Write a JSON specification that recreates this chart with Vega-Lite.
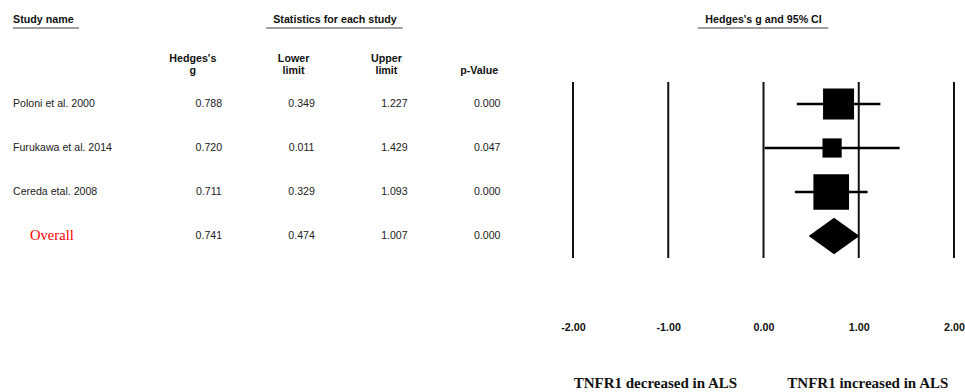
{
  "$schema": "https://vega.github.io/schema/vega-lite/v6.json",
  "background": "white",
  "padding": {"left": 12, "top": 0, "right": 0, "bottom": 0},
  "config": {
    "view": {"stroke": null},
    "font": "Liberation Sans",
    "text": {"font": "Liberation Sans"}
  },
  "datasets": {
    "studies": [
      {"study": "Poloni et al. 2000", "g": 0.788, "lower": 0.349, "upper": 1.227, "p": 0.000, "weight": 37.0},
      {"study": "Furukawa et al. 2014", "g": 0.720, "lower": 0.011, "upper": 1.429, "p": 0.047, "weight": 14.2},
      {"study": "Cereda etal. 2008", "g": 0.711, "lower": 0.329, "upper": 1.093, "p": 0.000, "weight": 48.9},
      {"study": "Overall", "g": 0.741, "lower": 0.474, "upper": 1.007, "p": 0.000}
    ],
    "subheads": [
      {"col": "g", "label": "Hedges's\ng", "lines": 2},
      {"col": "lower", "label": "Lower\nlimit", "lines": 2},
      {"col": "upper", "label": "Upper\nlimit", "lines": 2},
      {"col": "p", "label": "p-Value", "lines": 1}
    ],
    "ticks": [{"v": -2}, {"v": -1}, {"v": 0}, {"v": 1}, {"v": 2}]
  },
  "spacing": 40,
  "bounds": "flush",
  "hconcat": [
    {
      "width": 66,
      "height": 252,
      "layer": [
        {
          "data": {"name": "studies"},
          "transform": [{"filter": "datum.study != 'Overall'"}],
          "mark": {"type": "text", "align": "left", "baseline": "middle", "fontSize": 10.6, "color": "#222"},
          "encoding": {
            "x": {"datum": "Study name", "type": "nominal", "scale": {"type": "point", "domain": ["Study name"], "align": 0}, "axis": null},
            "y": {"field": "study", "type": "nominal", "scale": {"type": "point", "domain": ["Study name", "hdr", "Poloni et al. 2000", "Furukawa et al. 2014", "Cereda etal. 2008", "Overall"], "padding": 0.364}, "axis": null},
            "text": {"field": "study"}
          }
        },
        {
          "data": {"name": "studies"},
          "transform": [{"filter": "datum.study == 'Overall'"}],
          "mark": {"type": "text", "align": "left", "baseline": "middle", "font": "Liberation Serif", "fontSize": 14.6, "color": "#ff0000", "dx": 17},
          "encoding": {
            "x": {"datum": "Study name", "type": "nominal", "scale": {"type": "point", "domain": ["Study name"], "align": 0}, "axis": null},
            "y": {"field": "study", "type": "nominal", "scale": {"type": "point", "domain": ["Study name", "hdr", "Poloni et al. 2000", "Furukawa et al. 2014", "Cereda etal. 2008", "Overall"], "padding": 0.364}, "axis": null},
            "text": {"field": "study"}
          }
        },
        {
          "data": {"values": [{"label": "Study name"}]},
          "mark": {"type": "text", "align": "left", "baseline": "middle", "fontSize": 10.7, "fontWeight": "bold", "color": "#111", "dy": 4},
          "encoding": {
            "x": {"datum": "Study name", "type": "nominal", "scale": {"type": "point", "domain": ["Study name"], "align": 0}, "axis": null},
            "y": {"field": "label", "type": "nominal", "scale": {"type": "point", "domain": ["Study name", "hdr", "Poloni et al. 2000", "Furukawa et al. 2014", "Cereda etal. 2008", "Overall"], "padding": 0.364}, "axis": null},
            "text": {"field": "label"}
          }
        },
        {
          "data": {"values": [{}]},
          "mark": {"type": "rule", "color": "#a0a0a0", "strokeWidth": 2, "yOffset": 12},
          "encoding": {
            "y": {"datum": "Study name", "type": "nominal", "scale": {"type": "point", "domain": ["Study name", "hdr", "Poloni et al. 2000", "Furukawa et al. 2014", "Cereda etal. 2008", "Overall"], "padding": 0.364}, "axis": null}
          }
        }
      ]
    },
    {
      "width": 414,
      "height": 252,
      "layer": [
        {
          "data": {"name": "studies"},
          "transform": [{"fold": ["g", "lower", "upper", "p"], "as": ["col", "val"]}],
          "mark": {"type": "text", "align": "center", "baseline": "middle", "fontSize": 10.6, "color": "#222"},
          "encoding": {
            "x": {"field": "col", "type": "nominal", "scale": {"type": "point", "domain": ["g", "lower", "upper", "p"], "padding": 0.7306, "align": 0.6622}, "axis": null},
            "y": {"field": "study", "type": "nominal", "scale": {"type": "point", "domain": ["Study name", "hdr", "Poloni et al. 2000", "Furukawa et al. 2014", "Cereda etal. 2008", "Overall"], "padding": 0.364}, "axis": null},
            "text": {"field": "val", "type": "quantitative", "format": ".3f"}
          }
        },
        {
          "data": {"name": "subheads"},
          "transform": [{"filter": "datum.col == 'g'"}],
          "mark": {"type": "text", "align": "center", "baseline": "bottom", "lineBreak": "\n", "lineHeight": 12, "fontSize": 10.7, "fontWeight": "bold", "color": "#111", "dx": -16, "dy": 4},
          "encoding": {
            "x": {"field": "col", "type": "nominal", "scale": {"type": "point", "domain": ["g", "lower", "upper", "p"], "padding": 0.7306, "align": 0.6622}, "axis": null},
            "y": {"datum": "hdr", "type": "nominal", "scale": {"type": "point", "domain": ["Study name", "hdr", "Poloni et al. 2000", "Furukawa et al. 2014", "Cereda etal. 2008", "Overall"], "padding": 0.364}, "axis": null},
            "text": {"field": "label"}
          }
        },
        {
          "data": {"name": "subheads"},
          "transform": [{"filter": "datum.lines == 2 && datum.col != 'g'"}],
          "mark": {"type": "text", "align": "center", "baseline": "bottom", "lineBreak": "\n", "lineHeight": 12, "fontSize": 10.7, "fontWeight": "bold", "color": "#111", "dx": -8, "dy": 4},
          "encoding": {
            "x": {"field": "col", "type": "nominal", "scale": {"type": "point", "domain": ["g", "lower", "upper", "p"], "padding": 0.7306, "align": 0.6622}, "axis": null},
            "y": {"datum": "hdr", "type": "nominal", "scale": {"type": "point", "domain": ["Study name", "hdr", "Poloni et al. 2000", "Furukawa et al. 2014", "Cereda etal. 2008", "Overall"], "padding": 0.364}, "axis": null},
            "text": {"field": "label"}
          }
        },
        {
          "data": {"name": "subheads"},
          "transform": [{"filter": "datum.lines == 1"}],
          "mark": {"type": "text", "align": "center", "baseline": "bottom", "fontSize": 10.7, "fontWeight": "bold", "color": "#111", "dx": -8, "dy": 16},
          "encoding": {
            "x": {"field": "col", "type": "nominal", "scale": {"type": "point", "domain": ["g", "lower", "upper", "p"], "padding": 0.7306, "align": 0.6622}, "axis": null},
            "y": {"datum": "hdr", "type": "nominal", "scale": {"type": "point", "domain": ["Study name", "hdr", "Poloni et al. 2000", "Furukawa et al. 2014", "Cereda etal. 2008", "Overall"], "padding": 0.364}, "axis": null},
            "text": {"field": "label"}
          }
        },
        {
          "data": {"values": [{"label": "Statistics for each study"}]},
          "mark": {"type": "text", "align": "center", "baseline": "middle", "fontSize": 10.7, "fontWeight": "bold", "color": "#111", "dx": 9, "dy": 4},
          "encoding": {
            "y": {"datum": "Study name", "type": "nominal", "scale": {"type": "point", "domain": ["Study name", "hdr", "Poloni et al. 2000", "Furukawa et al. 2014", "Cereda etal. 2008", "Overall"], "padding": 0.364}, "axis": null},
            "text": {"field": "label"}
          }
        },
        {
          "data": {"values": [{}]},
          "mark": {"type": "rule", "color": "#a0a0a0", "strokeWidth": 2, "yOffset": 12, "xOffset": -35.6, "x2Offset": 8.3},
          "encoding": {
            "x": {"datum": "lower", "type": "nominal", "scale": {"type": "point", "domain": ["g", "lower", "upper", "p"], "padding": 0.7306, "align": 0.6622}, "axis": null},
            "x2": {"datum": "upper"},
            "y": {"datum": "Study name", "type": "nominal", "scale": {"type": "point", "domain": ["Study name", "hdr", "Poloni et al. 2000", "Furukawa et al. 2014", "Cereda etal. 2008", "Overall"], "padding": 0.364}, "axis": null}
          }
        }
      ]
    },
    {
      "width": 381,
      "height": 252,
      "resolve": {"axis": {"x": "independent"}},
      "layer": [
        {
          "data": {"name": "ticks"},
          "mark": {"type": "rule", "color": "#111", "strokeWidth": 2, "yOffset": -22, "y2Offset": 22},
          "encoding": {
            "x": {
              "field": "v", "type": "quantitative",
              "scale": {"domain": [-2, 2], "nice": false, "zero": false},
              "axis": {
                "orient": "bottom", "values": [-2, -1, 0, 1, 2],
                "labelExpr": "(datum.value < 0 ? '-' : '') + format(abs(datum.value), '.2f')",
                "labelFont": "Liberation Sans", "labelFontSize": 10.7, "labelFontWeight": "bold", "labelColor": "#111",
                "labelPadding": 70, "labelFlush": false, "labelOverlap": false,
                "domain": false, "ticks": false, "grid": false, "title": null
              }
            },
            "y": {"datum": "Poloni et al. 2000", "type": "nominal", "scale": {"type": "point", "domain": ["Study name", "hdr", "Poloni et al. 2000", "Furukawa et al. 2014", "Cereda etal. 2008", "Overall"], "padding": 0.364}, "axis": null},
            "y2": {"datum": "Overall"}
          }
        },
        {
          "data": {"name": "studies"},
          "transform": [{"filter": "datum.study != 'Overall'"}],
          "mark": {"type": "rule", "color": "#000", "strokeWidth": 2.7},
          "encoding": {
            "x": {
              "field": "lower", "type": "quantitative",
              "scale": {"domain": [-2, 2], "nice": false, "zero": false},
              "axis": {
                "orient": "bottom", "values": [-1.14, 1.09],
                "labelExpr": "datum.value < 0 ? 'TNFR1 decreased in ALS' : 'TNFR1 increased in ALS'",
                "labelFont": "Liberation Serif", "labelFontSize": 15, "labelFontWeight": "bold", "labelColor": "#111",
                "labelPadding": 123, "labelFlush": false, "labelOverlap": false, "labelBound": false,
                "domain": false, "ticks": false, "grid": false, "title": null
              }
            },
            "x2": {"field": "upper"},
            "y": {"field": "study", "type": "nominal", "scale": {"type": "point", "domain": ["Study name", "hdr", "Poloni et al. 2000", "Furukawa et al. 2014", "Cereda etal. 2008", "Overall"], "padding": 0.364}, "axis": null}
          }
        },
        {
          "data": {"name": "studies"},
          "transform": [{"filter": "datum.study != 'Overall'"}],
          "mark": {"type": "point", "shape": "square", "filled": true, "color": "#000", "opacity": 1},
          "encoding": {
            "x": {"field": "g", "type": "quantitative", "scale": {"domain": [-2, 2], "nice": false, "zero": false}, "axis": null},
            "y": {"field": "study", "type": "nominal", "scale": {"type": "point", "domain": ["Study name", "hdr", "Poloni et al. 2000", "Furukawa et al. 2014", "Cereda etal. 2008", "Overall"], "padding": 0.364}, "axis": null},
            "size": {"field": "weight", "type": "quantitative", "scale": {"domain": [0, 50], "range": [0, 1300]}, "legend": null}
          }
        },
        {
          "data": {"name": "studies"},
          "transform": [{"filter": "datum.study == 'Overall'"}],
          "mark": {"type": "point", "shape": "M-1,0L0,-0.72L1,0L0,0.72Z", "size": 2581, "filled": true, "color": "#000", "opacity": 1},
          "encoding": {
            "x": {"field": "g", "type": "quantitative", "scale": {"domain": [-2, 2], "nice": false, "zero": false}, "axis": null},
            "y": {"field": "study", "type": "nominal", "scale": {"type": "point", "domain": ["Study name", "hdr", "Poloni et al. 2000", "Furukawa et al. 2014", "Cereda etal. 2008", "Overall"], "padding": 0.364}, "axis": null}
          }
        },
        {
          "data": {"values": [{"label": "Hedges's g and 95% CI"}]},
          "mark": {"type": "text", "align": "center", "baseline": "middle", "fontSize": 10.7, "fontWeight": "bold", "color": "#111", "dy": 4},
          "encoding": {
            "x": {"datum": 0, "type": "quantitative", "scale": {"domain": [-2, 2], "nice": false, "zero": false}, "axis": null},
            "y": {"datum": "Study name", "type": "nominal", "scale": {"type": "point", "domain": ["Study name", "hdr", "Poloni et al. 2000", "Furukawa et al. 2014", "Cereda etal. 2008", "Overall"], "padding": 0.364}, "axis": null},
            "text": {"field": "label"}
          }
        },
        {
          "data": {"values": [{}]},
          "mark": {"type": "rule", "color": "#a0a0a0", "strokeWidth": 2, "yOffset": 12},
          "encoding": {
            "x": {"datum": -0.69, "type": "quantitative", "scale": {"domain": [-2, 2], "nice": false, "zero": false}, "axis": null},
            "x2": {"datum": 0.68},
            "y": {"datum": "Study name", "type": "nominal", "scale": {"type": "point", "domain": ["Study name", "hdr", "Poloni et al. 2000", "Furukawa et al. 2014", "Cereda etal. 2008", "Overall"], "padding": 0.364}, "axis": null}
          }
        }
      ]
    }
  ]
}
